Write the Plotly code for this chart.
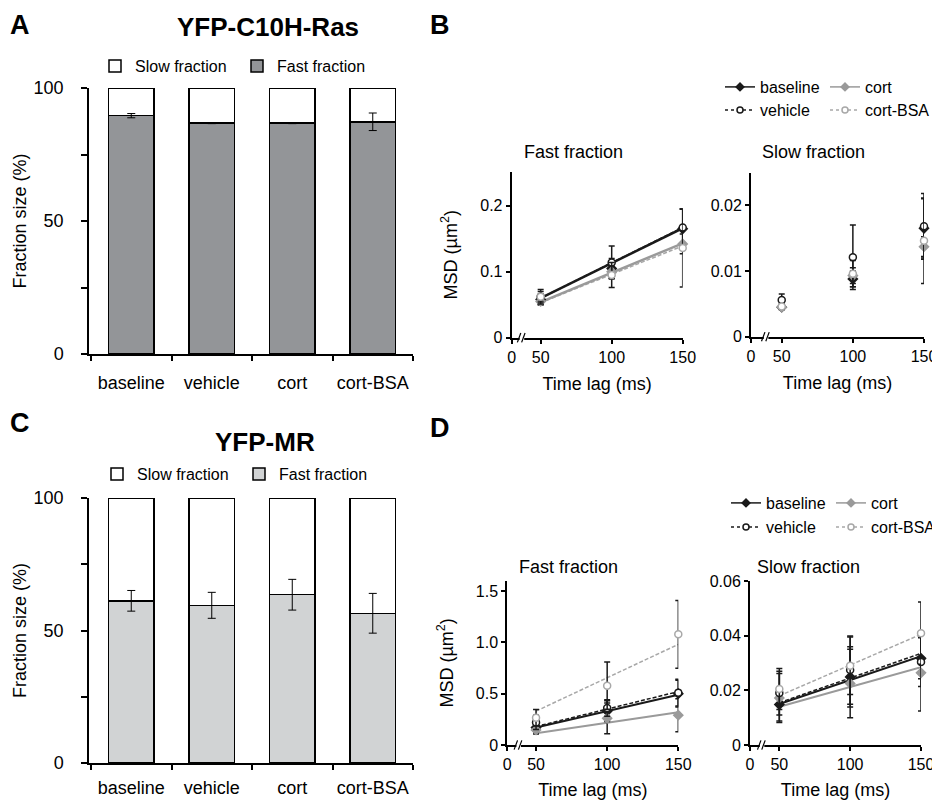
import plotly.graph_objects as go

# page is drawn with an 8px body margin, so the figure is sized/offset to fit the 940x800 window
OFF = 8
W, H = 940 - OFF, 800 - OFF
FONT = "Arial, 'Liberation Sans', sans-serif"

# ---------------- data ----------------
categories = ["baseline", "vehicle", "cort", "cort-BSA"]
ras_fast = [89.6, 86.8, 86.8, 87.3]
ras_fast_err = [0.8, 0.2, 0.2, 3.3]
mr_fast = [61.2, 59.5, 63.5, 56.5]
mr_fast_err = [3.9, 4.9, 5.8, 7.5]

time_lag = [50, 100, 150]
fit_lag = [50, 150]
series = ["baseline", "cort", "vehicle", "cort-BSA"]

b_fast_mean = {"baseline": [0.058, 0.105, 0.165], "cort": [0.055, 0.100, 0.142],
               "vehicle": [0.062, 0.114, 0.167], "cort-BSA": [0.062, 0.095, 0.136]}
b_fast_err = {"baseline": [0.008, 0.015, 0.030], "cort": [0.005, 0.010, 0.015],
              "vehicle": [0.011, 0.025, 0.028], "cort-BSA": [0.008, 0.019, 0.059]}
b_fast_fit = {"baseline": [0.060, 0.166], "cort": [0.054, 0.143],
              "vehicle": [0.060, 0.167], "cort-BSA": [0.053, 0.139]}

b_slow_mean = {"baseline": [0.0045, 0.0088, 0.0165], "cort": [0.0045, 0.0093, 0.0137],
               "vehicle": [0.0056, 0.0121, 0.0168], "cort-BSA": [0.0046, 0.0096, 0.0146]}
b_slow_err = {"baseline": [0.0004, 0.0012, 0.0045], "cort": [0.0003, 0.0012, 0.0015],
              "vehicle": [0.0009, 0.0049, 0.0050], "cort-BSA": [0.0004, 0.0020, 0.0065]}

d_fast_mean = {"baseline": [0.17, 0.33, 0.50], "cort": [0.146, 0.26, 0.29],
               "vehicle": [0.22, 0.36, 0.51], "cort-BSA": [0.266, 0.578, 1.078]}
d_fast_err = {"baseline": [0.05, 0.10, 0.13], "cort": [0.04, 0.15, 0.16],
              "vehicle": [0.07, 0.08, 0.13], "cort-BSA": [0.08, 0.23, 0.33]}
d_fast_fit = {"baseline": [0.17, 0.49], "cort": [0.115, 0.32],
              "vehicle": [0.18, 0.52], "cort-BSA": [0.33, 0.98]}

d_slow_mean = {"baseline": [0.0148, 0.0249, 0.0317], "cort": [0.0172, 0.0225, 0.0264],
               "vehicle": [0.0190, 0.0274, 0.0304], "cort-BSA": [0.0205, 0.0290, 0.0409]}
d_slow_err = {"baseline": [0.006, 0.011, 0.0075], "cort": [0.009, 0.0125, 0.0140],
              "vehicle": [0.008, 0.0125, 0.009], "cort-BSA": [0.0075, 0.0105, 0.0114]}
d_slow_fit = {"baseline": [0.0150, 0.0325], "cort": [0.0140, 0.0285],
              "vehicle": [0.0155, 0.0335], "cort-BSA": [0.0180, 0.0405]}

b_slow_marker = [0.0076]
d_slow_marker = [0.0067]

# ---------------- helpers ----------------
def px(x):
    return (x - OFF) / W

def py(y):
    return 1 - (y - OFF) / H

STY = {
    "baseline": dict(color="#1a1a1a", symbol="diamond", fill="#1a1a1a", dash="solid"),
    "cort": dict(color="#9a9a9a", symbol="diamond", fill="#9a9a9a", dash="solid"),
    "vehicle": dict(color="#1a1a1a", symbol="circle", fill="white", dash="4px,2px"),
    "cort-BSA": dict(color="#a8a8a8", symbol="circle", fill="white", dash="4px,2px"),
}

fig = go.Figure()

# ---------------- bar panels ----------------
def add_bars(xa, ya, fast, err, fast_color, leg):
    fig.add_trace(go.Bar(x=categories, y=fast, name="Fast fraction", width=0.57,
                         marker=dict(color=fast_color, line=dict(color="black", width=1.5)),
                         xaxis=xa, yaxis=ya, legend=leg, cliponaxis=False, hoverinfo="skip"))
    fig.add_trace(go.Bar(x=categories, y=[100 - v for v in fast], name="Slow fraction", width=0.57,
                         marker=dict(color="white", line=dict(color="black", width=1.5)),
                         xaxis=xa, yaxis=ya, legend=leg, cliponaxis=False, hoverinfo="skip"))
    fig.add_trace(go.Scatter(x=categories, y=fast, mode="markers", marker=dict(opacity=0, size=1),
                             error_y=dict(type="data", array=err, color="black", thickness=1, width=4),
                             xaxis=xa, yaxis=ya, showlegend=False, hoverinfo="skip"))

add_bars("x", "y", ras_fast, ras_fast_err, "#939598", "legend")
add_bars("x2", "y2", mr_fast, mr_fast_err, "#d1d3d4", "legend2")

# ---------------- MSD panels ----------------
def add_msd(xa, ya, means, errs, fits, line_w):
    if fits is not None:
        for s in ["cort-BSA", "cort", "vehicle", "baseline"]:
            st = STY[s]
            fig.add_trace(go.Scatter(x=fit_lag, y=fits[s], mode="lines",
                                     line=dict(color=st["color"], dash=st["dash"],
                                               width=line_w if st["dash"] == "solid" else 1.5),
                                     xaxis=xa, yaxis=ya, showlegend=False, hoverinfo="skip"))
    for s in ["baseline", "cort", "vehicle", "cort-BSA"]:
        st = STY[s]
        fig.add_trace(go.Scatter(x=time_lag, y=means[s], mode="markers",
                                 marker=dict(symbol=st["symbol"], size=7, color=st["fill"],
                                             line=dict(color=st["color"], width=1.5)),
                                 error_y=dict(type="data", array=errs[s], color="#1a1a1a",
                                              thickness=1.5, width=3),
                                 xaxis=xa, yaxis=ya, showlegend=False, cliponaxis=False,
                                 hoverinfo="skip"))

add_msd("x3", "y3", b_fast_mean, b_fast_err, b_fast_fit, 2.5)
add_msd("x4", "y4", b_slow_mean, b_slow_err, None, 2)
add_msd("x5", "y5", d_fast_mean, d_fast_err, d_fast_fit, 2)
add_msd("x6", "y6", d_slow_mean, d_slow_err, d_slow_fit, 2)

# legend entries (line + marker)
def add_legend_entries(xa, ya, leg1, leg2):
    for s, leg in [("baseline", leg1), ("cort", leg1), ("vehicle", leg2), ("cort-BSA", leg2)]:
        st = STY[s]
        fig.add_trace(go.Scatter(x=[None], y=[None], mode="lines+markers", name=s,
                                 line=dict(color=st["color"], dash="dot" if st["dash"] != "solid" else "solid",
                                           width=1.5),
                                 marker=dict(symbol=st["symbol"], size=6, color=st["fill"],
                                             line=dict(color=st["color"], width=1.5)),
                                 xaxis=xa, yaxis=ya, legend=leg))

add_legend_entries("x3", "y3", "legend3", "legend4")
add_legend_entries("x5", "y5", "legend5", "legend6")

# background-level markers (arrowheads) on slow fraction axes
X_LEFT = {"x3": 29.6, "x4": 28.4, "x5": 29.8, "x6": 29.3}
for xa, ya, val in [("x4", "y4", b_slow_marker), ("x6", "y6", d_slow_marker)]:
    fig.add_trace(go.Scatter(x=[X_LEFT[xa] - 4.2], y=val, mode="markers",
                             marker=dict(symbol="triangle-right", size=12, color="#555555"),
                             xaxis=xa, yaxis=ya, showlegend=False, cliponaxis=False, hoverinfo="skip"))

# ---------------- axes ----------------
axis_common = dict(showline=True, linecolor="black", showgrid=False, zeroline=False,
                   ticks="outside", tickcolor="black", automargin=False,
                   tickfont=dict(family=FONT, size=16, color="black"))

bar_x = dict(axis_common, type="category", tickson="boundaries", ticklen=5, linewidth=1.5,
             tickwidth=1.5, range=[-0.525, 3.5], tickangle=0,
             tickfont=dict(family=FONT, size=18, color="black"), ticklabelstandoff=12)
bar_y = dict(axis_common, range=[0, 100], tickvals=[0, 50, 100],
             ticklen=6, linewidth=1.5, tickwidth=1.5,
             minor=dict(tickvals=[25, 75], ticks="outside", ticklen=6, tickwidth=1.5, tickcolor="black",
                        showgrid=False),
             tickfont=dict(family=FONT, size=18, color="black"), ticklabelstandoff=14,
             title=dict(text="Fraction size (%)", font=dict(family=FONT, size=18, color="black"),
                        standoff=2))

fig.update_layout(
    xaxis=dict(bar_x, domain=[px(89), px(413)], anchor="y"),
    yaxis=dict(bar_y, domain=[py(354), py(88)], anchor="x"),
    xaxis2=dict(bar_x, domain=[px(89), px(413)], anchor="y2", ticklabelstandoff=8),
    yaxis2=dict(bar_y, domain=[py(763), py(498)], anchor="x2"),
)

def msd_x(left, right, xname, yname):
    return dict(axis_common, domain=[px(left), px(right)], anchor=yname,
                range=[X_LEFT[xname], 150], tickvals=[X_LEFT[xname], 50, 100, 150],
                ticktext=["0", "50", "100", "150"], ticklen=4, linewidth=2, tickwidth=1.5,
                title=dict(text="Time lag (ms)", font=dict(family=FONT, size=18, color="black"),
                           standoff=12))

def msd_y(bottom, top, xname, rng, vals, texts, title):
    d = dict(axis_common, domain=[py(bottom), py(top)], anchor=xname, range=rng,
             tickvals=vals, ticktext=texts, ticklen=4, linewidth=2, tickwidth=1.5)
    if title:
        d["title"] = dict(text="MSD (µm<sup>2</sup>)", font=dict(family=FONT, size=18, color="black"),
                          standoff=18)
    return d

fig.update_layout(
    xaxis3=msd_x(511.7, 682.7, "x3", "y3"),
    yaxis3=msd_y(337.7, 171.7, "x3", [0, 0.2515], [0, 0.1, 0.2], ["0", "0.1", "0.2"], True),
    xaxis4=msd_x(751, 924, "x4", "y4"),
    yaxis4=msd_y(336.7, 172.5, "x4", [0, 0.025], [0, 0.01, 0.02], ["0", "0.01", "0.02"], False),
    xaxis5=msd_x(507.3, 678.3, "x5", "y5"),
    yaxis5=msd_y(745, 580.7, "x5", [0, 1.6], [0, 0.5, 1.0, 1.5], ["0", "0.5", "1.0", "1.5"], True),
    xaxis6=msd_x(750, 921, "x6", "y6"),
    yaxis6=msd_y(745, 581, "x6", [0, 0.06], [0, 0.02, 0.04, 0.06], ["0", "0.02", "0.04", "0.06"], False),
)

# axis breaks "//"
shapes = []
for xa, ya, xb in [("x3", "y3", 36.8), ("x4", "y4", 39.0), ("x5", "y5", 37.8), ("x6", "y6", 37.8)]:
    shapes.append(dict(type="rect", xref=xa, yref=ya + " domain", x0=xb - 1.6, x1=xb + 1.6,
                       y0=-0.03, y1=0.03, fillcolor="white", line=dict(width=0), layer="above"))
    for dx in (-2.0, 1.0):
        shapes.append(dict(type="line", xref=xa, yref=ya + " domain", x0=xb + dx - 1.2, x1=xb + dx + 1.2,
                           y0=-0.028, y1=0.028, line=dict(color="black", width=1.2), layer="above"))

# ---------------- annotations ----------------
def ann(text, x, y, size, bold=False, yanchor="middle"):
    return dict(text=f"<b>{text}</b>" if bold else text, x=px(x), y=min(1.0, py(y)), xref="paper",
                yref="paper", xanchor="center", yanchor=yanchor, showarrow=False,
                font=dict(family=FONT, size=size, color="black"))

annotations = [
    ann("A", 20, 8, 27, True, "top"), ann("B", 440, 8, 27, True, "top"),
    ann("C", 20, 423, 27, True), ann("D", 440, 428, 27, True),
    ann("YFP-C10H-Ras", 268, 27, 26, True), ann("YFP-MR", 265, 442, 26, True),
    ann("Fast fraction", 573, 152, 18), ann("Slow fraction", 813, 152, 18),
    ann("Fast fraction", 568, 567, 18), ann("Slow fraction", 808, 567, 18),
]

def leg(x_text, y, entry, order="normal"):
    return dict(orientation="h", x=px(x_text - 40), y=py(y), xanchor="left", yanchor="middle",
                entrywidth=entry, entrywidthmode="pixels", bgcolor="rgba(0,0,0,0)",
                font=dict(family=FONT, size=16, color="black"), itemwidth=30, tracegroupgap=0,
                traceorder=order)

fig.update_layout(
    width=W, height=H, margin=dict(l=0, r=0, t=0, b=0, autoexpand=False),
    paper_bgcolor="white", plot_bgcolor="white", barmode="stack", showlegend=True,
    font=dict(family=FONT, color="black"),
    legend=leg(135, 66, 97, "reversed"), legend2=leg(137, 474, 97, "reversed"),
    legend3=leg(760, 87, 60), legend4=leg(760, 110, 60),
    legend5=leg(766, 503, 60), legend6=leg(766, 527, 60),
    shapes=shapes, annotations=annotations,
)

fig.write_html("out.html")
